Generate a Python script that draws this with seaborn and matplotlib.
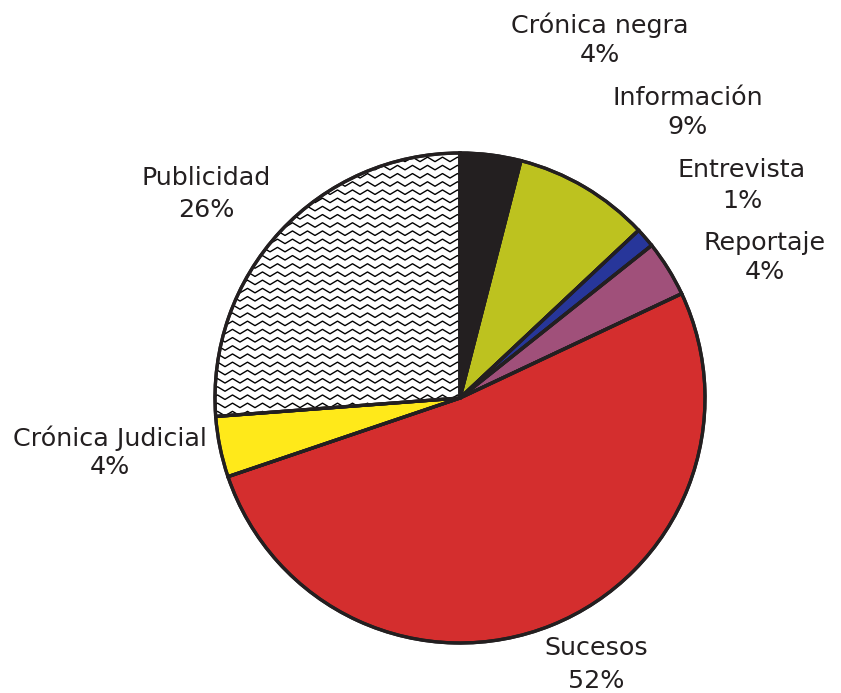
import numpy as np
import matplotlib
matplotlib.use("Agg")
import matplotlib.pyplot as plt
import seaborn as sns
from matplotlib.lines import Line2D
from matplotlib.patches import Wedge

categories = ["Crónica negra", "Información", "Entrevista", "Reportaje",
              "Sucesos", "Crónica Judicial", "Publicidad"]
values = [4, 9, 1.3, 3.7, 51.8, 4, 26.2]
pct_labels = ["4%", "9%", "1%", "4%", "52%", "4%", "26%"]
colors = ["#231f20", "#bdc21f", "#27369a", "#a0507a", "#d42e2e", "#ffe91a", "#ffffff"]

sns.set_theme(style="white")
plt.rcParams['font.family'] = ['DejaVu Sans']

W, H = 841, 693
fig = plt.figure(figsize=(W / 100, H / 100), dpi=100)
ax = fig.add_axes([0, 0, 1, 1])

cx, cy, r = 460, 398, 245
wedges, _ = ax.pie(values, colors=colors, startangle=-90, counterclock=True,
                   center=(cx, cy), radius=r, frame=True,
                   wedgeprops=dict(edgecolor="#231f20", linewidth=2.3))
ax.set_xlim(0, W)
ax.set_ylim(H, 0)
ax.set_aspect("equal")
ax.axis("off")

# zigzag fill for Publicidad
pub = wedges[-1]
period, amp, gap = 15, 4.5, 8.2
xs = np.arange(cx - r - 20, cx + 20, period / 2)
for yy in np.arange(cy - r - 10, cy + 30, gap):
    ys = yy + np.where(np.arange(len(xs)) % 2 == 0, amp / 2, -amp / 2)
    ln = Line2D(xs, ys, color="black", linewidth=1.0, zorder=pub.get_zorder() + 0.1)
    ax.add_line(ln)
    ln.set_clip_path(pub)

for w in wedges:
    edge = Wedge(w.center, w.r, w.theta1, w.theta2, facecolor="none",
                 edgecolor="#231f20", linewidth=2.4, zorder=5)
    ax.add_patch(edge)

label_pos = [(600, 25, 55), (688, 98, 127), (742, 170, 201), (765, 243, 272),
             (596, 648, 681), (110, 438, 467), (206, 178, 210)]
for name, pct, (lx, ly1, ly2) in zip(categories, pct_labels, label_pos):
    ax.text(lx, ly1, name, ha="center", va="center", fontsize=18.3, color="#231f20")
    ax.text(lx, ly2, pct, ha="center", va="center", fontsize=18.3, color="#231f20")

fig.savefig("out.png", dpi=100, facecolor="white")
